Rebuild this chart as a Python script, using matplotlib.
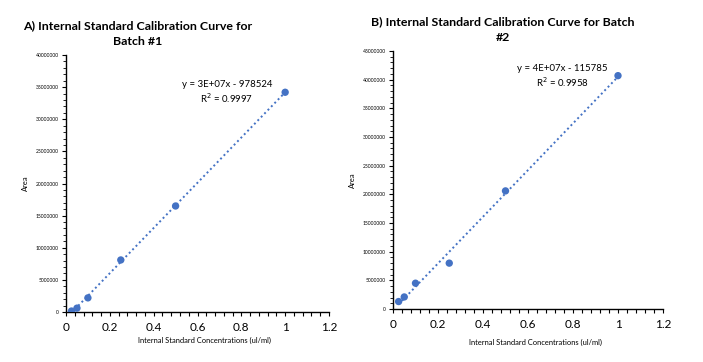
import numpy as np
import matplotlib
matplotlib.use("Agg")
import matplotlib.pyplot as plt
from matplotlib.ticker import MultipleLocator, FuncFormatter

plt.rcParams['font.family'] = ['Lato', 'DejaVu Sans']

conc = [0.025, 0.05, 0.1, 0.25, 0.5, 1.0]
area_batch1 = [150000, 600000, 2200000, 8100000, 16500000, 34200000]
area_batch2 = [1300000, 2100000, 4500000, 8000000, 20600000, 40700000]

title1 = "A) Internal Standard Calibration Curve for\nBatch #1"
title2 = "B) Internal Standard Calibration Curve for Batch\n#2"
eq1 = "y = 3E+07x - 978524\nR$^2$ = 0.9997"
eq2 = "y = 4E+07x - 115785\nR$^2$ = 0.9958"
xlabel = "Internal Standard Concentrations (ul/ml)"
ylabel = "Area"

blue = "#4472C4"

fig = plt.figure(figsize=(7.03, 3.62), dpi=100)

def panel(rect, y, ymax, ystep, title, title_xy, eq, eq_xy, xlab_y, ylab_x):
    ax = fig.add_axes(rect)
    x = np.array(conc)
    yy = np.array(y)
    k, b = np.polyfit(x, yy, 1)
    xs = np.array([x.min(), x.max()])
    ax.plot(xs, k * xs + b, linestyle=(0, (1, 1.5)), color=blue, lw=1.4, zorder=2)
    ax.scatter(x, yy, s=28, color=blue, zorder=3, edgecolors='none')
    ax.set_xlim(0, 1.2)
    ax.set_ylim(0, ymax)
    ax.xaxis.set_major_locator(MultipleLocator(0.2))
    ax.xaxis.set_minor_locator(MultipleLocator(0.04))
    ax.yaxis.set_major_locator(MultipleLocator(ystep))
    ax.yaxis.set_minor_locator(MultipleLocator(ystep / 5))
    ax.xaxis.set_major_formatter(FuncFormatter(lambda v, p: f"{v:g}"))
    ax.yaxis.set_major_formatter(FuncFormatter(lambda v, p: f"{int(round(v))}"))
    for s in ['top', 'right']:
        ax.spines[s].set_visible(False)
    for s in ['left', 'bottom']:
        ax.spines[s].set_linewidth(1.0)
        ax.spines[s].set_color('black')
    ax.tick_params(axis='x', which='major', direction='out', length=3, width=0.8, labelsize=8.5, pad=4, colors='black')
    ax.tick_params(axis='x', which='minor', direction='out', length=3, width=0.8)
    ax.tick_params(axis='y', which='major', direction='out', length=3, width=0.8, labelsize=3.6, pad=2, colors='black')
    ax.tick_params(axis='y', which='minor', direction='out', length=2, width=0.6)
    fig.text(title_xy[0], title_xy[1], title, ha='center', va='top', fontsize=8.9,
             fontweight='bold', linespacing=1.55)
    ax.text(eq_xy[0], eq_xy[1], eq, transform=fig.transFigure, ha='center', va='top',
            fontsize=6.9, linespacing=1.2)
    fig.text((rect[0] + rect[0] + rect[2]) / 2 + 0.01, xlab_y, xlabel, ha='center', va='center', fontsize=5.4)
    fig.text(ylab_x, rect[1] + rect[3] / 2, ylabel, ha='center', va='center', rotation=90, fontsize=5.4)
    return ax

panel([66/703, 1 - 312/362, (329-66)/703, (312-55)/362], area_batch1, 40000000, 5000000,
      title1, (138/703, 1 - 20/362), eq1, (227/703, 1 - 80/362), 1 - 340/362, 25/703)
panel([393/703, 1 - 309/362, (663-393)/703, (309-51)/362], area_batch2, 45000000, 5000000,
      title2, (503/703, 1 - 16/362), eq2, (562/703, 1 - 64/362), 1 - 342/362, 352/703)

fig.savefig("out.png", dpi=100, facecolor='white')
